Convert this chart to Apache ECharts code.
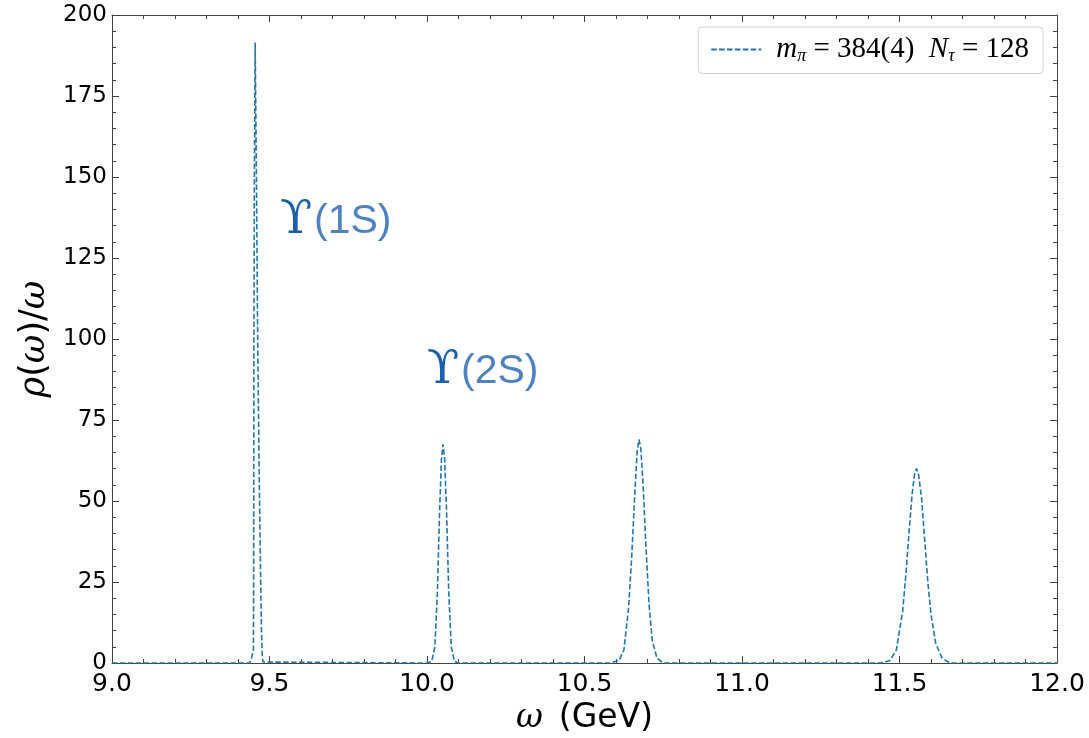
<!DOCTYPE html>
<html>
<head>
<meta charset="utf-8">
<script src="https://cdn.jsdelivr.net/npm/echarts@6/dist/echarts.min.js"></script>
<style>
  html, body { margin: 0; padding: 0; background: #fff; }
  #chart { width: 1089px; height: 738px; }
</style>
</head>
<body>
<div id="chart"></div>
<script>
// spectral function rho(omega)/omega
const omega1S = [9.436, 9.4395, 9.4415, 9.449, 9.4498, 9.4505, 9.452, 9.4545, 9.4585, 9.4625, 9.467, 9.4713, 9.4745, 9.477, 9.4795, 9.483];
const rho1S   = [0, 0.3, 1, 4, 30, 100, 150, 191.5, 150, 100, 60, 30, 10, 2, 0.3, 0];

const omega2S = [10.000, 10.015, 10.025, 10.033, 10.040, 10.046, 10.051, 10.056, 10.062, 10.069, 10.077, 10.087, 10.100];
const rho2S   = [0, 0.5, 5, 22, 47, 63, 67.5, 63, 47, 22, 5, 0.5, 0];

const omega3 = [10.58, 10.61, 10.625, 10.64, 10.65, 10.66, 10.667, 10.673, 10.679, 10.686, 10.695, 10.705, 10.715, 10.73, 10.75];
const rho3   = [0, 0.8, 4, 17, 33, 53, 65, 69, 66, 55, 36, 18, 7, 1.5, 0];

const omega4 = [11.44, 11.47, 11.49, 11.51, 11.52, 11.53, 11.54, 11.548, 11.554, 11.56, 11.57, 11.58, 11.59, 11.60, 11.615, 11.635, 11.66];
const rho4   = [0, 0.8, 4, 16, 27, 40, 52, 58.5, 60, 58.5, 51, 38, 25, 15, 6, 1.5, 0];

const omegaRange = [9.0, 12.0];
const rhoRange = [0, 200];
const legendName = 'mpi';

const pairs = (xs, ys) => xs.map((x, i) => [x, ys[i]]);
const lineData = [[omegaRange[0], 0]]
  .concat(pairs(omega1S, rho1S), pairs(omega2S, rho2S), pairs(omega3, rho3), pairs(omega4, rho4))
  .concat([[omegaRange[1], 0]]);

const chart = echarts.init(document.getElementById('chart'));

const spine = '#444';
const tickStyle = {
  axisLine: { show: true, onZero: false, lineStyle: { color: spine, width: 1 } },
  axisTick: { show: true, inside: true, length: 7, lineStyle: { color: spine } },
  minorTick: { show: true, splitNumber: 5, length: 4, lineStyle: { color: spine } },
  splitLine: { show: false }
};

const mathRich = (size) => ({
  it: { fontFamily: 'DejaVu Serif', fontStyle: 'italic', fontSize: size, color: '#000' },
  up: { fontFamily: 'DejaVu Sans', fontSize: size, color: '#000' },
  sp: { width: 16 }
});

chart.setOption({
  backgroundColor: '#fff',
  animation: false,
  grid: { left: 112, right: 32, top: 15, bottom: 75, containLabel: false, outerBoundsMode: 'none' },
  legend: {
    right: 46,
    top: 27,
    padding: [8, 14, 8, 12],
    borderColor: '#d0d0d0',
    borderWidth: 1,
    borderRadius: 4,
    itemWidth: 50,
    itemHeight: 14,
    itemGap: 10,
    itemStyle: { opacity: 0, borderWidth: 0 },
    data: [legendName],
    formatter: () => '{g| }{i|m}{s|π}{n| = 384(4)  }{i|N}{s|τ}{n| = 128}',
    textStyle: {
      rich: {
        g: { fontSize: 28, width: 10 },
        i: { fontFamily: 'Liberation Serif', fontStyle: 'italic', fontSize: 29, color: '#000' },
        n: { fontFamily: 'Liberation Serif', fontSize: 29, color: '#000' },
        s: { fontFamily: 'Liberation Serif', fontStyle: 'italic', fontSize: 18, color: '#000', padding: [14, 0, 0, 0] }
      }
    }
  },
  xAxis: [
    Object.assign({
      type: 'value',
      min: omegaRange[0], max: omegaRange[1], interval: 0.5,
      name: '{it|ω}{sp|}{up|(GeV)}',
      nameLocation: 'middle',
      nameGap: 34,
      nameTextStyle: { rich: mathRich(33) },
      axisLabel: {
        fontFamily: 'DejaVu Sans', fontSize: 25, color: '#000', margin: 9,
        formatter: v => v.toFixed(1)
      }
    }, tickStyle),
    Object.assign({
      type: 'value', position: 'top',
      min: omegaRange[0], max: omegaRange[1], interval: 0.5,
      axisLabel: { show: false }
    }, tickStyle)
  ],
  yAxis: [
    Object.assign({
      type: 'value',
      min: rhoRange[0], max: rhoRange[1], interval: 25,
      name: '{it|ρ}{up|(}{it|ω}{up|)/}{it|ω}',
      nameLocation: 'middle',
      nameRotate: 90,
      nameGap: 58,
      nameTextStyle: { rich: mathRich(35) },
      axisLabel: { fontFamily: 'DejaVu Sans', fontSize: 23, color: '#000', margin: 5 }
    }, tickStyle),
    Object.assign({
      type: 'value', position: 'right',
      min: rhoRange[0], max: rhoRange[1], interval: 25,
      axisLabel: { show: false }
    }, tickStyle)
  ],
  series: [{
    name: legendName,
    type: 'line',
    data: lineData,
    showSymbol: false,
    symbol: 'none',
    lineStyle: { color: '#1f77b4', width: 1.6, type: [5.5, 2.4] },
    itemStyle: { color: '#1f77b4' },
    z: 3
  }],
  graphic: [
    { type: 'text', left: 280, top: 197, style: { text: 'ϒ', font: '47px "DejaVu Serif"', fill: '#1c5fac' } },
    { type: 'text', left: 314, top: 201, style: { text: '(1S)', font: '41px "Liberation Sans"', fill: '#4f82c2' } },
    { type: 'text', left: 427, top: 347, style: { text: 'ϒ', font: '47px "DejaVu Serif"', fill: '#1c5fac' } },
    { type: 'text', left: 461, top: 351, style: { text: '(2S)', font: '41px "Liberation Sans"', fill: '#4f82c2' } }
  ]
});
</script>
</body>
</html>
